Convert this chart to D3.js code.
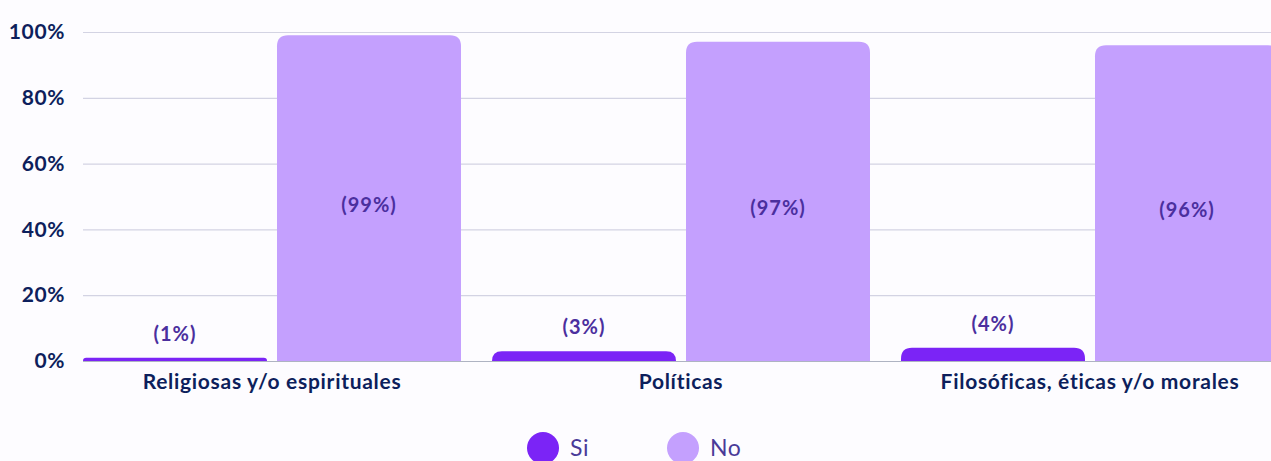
<!DOCTYPE html>
<html>
<head>
<meta charset="utf-8">
<script src="https://cdn.jsdelivr.net/npm/d3@7"></script>
<style>
  html, body { margin: 0; padding: 0; background: #fdfcff; overflow: hidden; }
  text { font-family: Lato, "Noto Sans", sans-serif; }
</style>
</head>
<body>
<div id="app"></div>
<script>
// datos
const categories = ['Religiosas y/o espirituales', 'Políticas', 'Filosóficas, éticas y/o morales'];
const seriesNames = ['Si', 'No'];
const siValues = [1, 3, 4];
const noValues = [99, 97, 96];
const yTicks = [0, 20, 40, 60, 80, 100];

const colors = { Si: '#7b24f6', No: '#c4a0fe' };

const width = 1271;
const height = 461;
const padding = { left: 83, top: 32, bottom: 100 };
const chartBottom = height - padding.bottom; // 361

let svg = d3.select('#app').append('svg')
    .attr('width', width)
    .attr('height', height);

// escalas
let xScale = d3.scaleBand()
    .domain(categories)
    .range([padding.left, padding.left + 3 * 409 - 31])
    .paddingInner(31 / 409)
    .paddingOuter(0);

let xSub = d3.scaleBand()
    .domain(seriesNames)
    .range([0, xScale.bandwidth()])
    .paddingInner(10 / 194)
    .paddingOuter(0);

let yScale = d3.scaleLinear()
    .domain([0, 100])
    .range([chartBottom, padding.top]);

// grilla y eje y
let yAxis = d3.axisLeft(yScale)
    .tickValues(yTicks)
    .tickSize(-(width - padding.left))
    .tickPadding(18)
    .tickFormat(d => d + '%');

let gy = svg.append('g')
    .attr('transform', `translate(${padding.left},0)`)
    .call(yAxis);
gy.select('.domain').remove();
gy.selectAll('.tick line')
    .attr('stroke', (d) => d === 0 ? '#aeb3c2' : '#d3d3e3')
    .attr('stroke-width', 1.2);
gy.selectAll('.tick text')
    .attr('fill', '#0d1f5c')
    .attr('font-size', 21)
    .attr('font-weight', 700)
    .attr('letter-spacing', 0.6);

// barras con esquinas superiores redondeadas
const topRounded = (x, y, w, h, r) => {
    r = Math.min(r, h, w / 2);
    return `M${x},${y + h}V${y + r}Q${x},${y} ${x + r},${y}H${x + w - r}Q${x + w},${y} ${x + w},${y + r}V${y + h}Z`;
};

let rows = categories.map((c, i) => ({
    cat: c,
    items: [
        { key: 'Si', value: siValues[i] },
        { key: 'No', value: noValues[i] }
    ]
}));

let groups = svg.selectAll('g.group')
    .data(rows)
    .enter()
    .append('g')
    .attr('class', 'group')
    .attr('transform', d => `translate(${xScale(d.cat)},0)`);

groups.selectAll('path')
    .data(d => d.items)
    .enter()
    .append('path')
    .attr('d', d => topRounded(xSub(d.key), yScale(d.value), xSub.bandwidth(), chartBottom - yScale(d.value), 11))
    .attr('fill', d => colors[d.key]);

// etiquetas de valores
groups.selectAll('text.val')
    .data(d => d.items)
    .enter()
    .append('text')
    .attr('class', 'val')
    .attr('x', d => xSub(d.key) + xSub.bandwidth() / 2)
    .attr('y', d => d.value > 20
        ? (yScale(d.value) + chartBottom) / 2 + 7
        : yScale(d.value) - 24)
    .attr('dy', '0.35em')
    .attr('text-anchor', 'middle')
    .attr('fill', '#4b2f9e')
    .attr('font-size', 20)
    .attr('font-weight', 700)
    .attr('letter-spacing', 1)
    .text(d => `(${d.value}%)`);

// eje x
let xAxis = d3.axisBottom(xScale).tickSize(0).tickPadding(13);
let gx = svg.append('g')
    .attr('transform', `translate(0,${chartBottom})`)
    .call(xAxis);
gx.select('.domain').remove();
gx.selectAll('.tick text')
    .attr('fill', '#0d1f5c')
    .attr('font-size', 21)
    .attr('font-weight', 700)
    .attr('letter-spacing', 0.7);

// leyenda
const legendX = [543, 683];
let legend = svg.selectAll('g.legend')
    .data(seriesNames)
    .enter()
    .append('g')
    .attr('class', 'legend')
    .attr('transform', (d, i) => `translate(${legendX[i]},448)`);

legend.append('circle')
    .attr('r', 16)
    .attr('fill', d => colors[d]);

legend.append('text')
    .attr('x', 27)
    .attr('y', 0)
    .attr('dy', '0.35em')
    .attr('fill', '#4a3a98')
    .attr('font-size', 23)
    .attr('letter-spacing', 0.6)
    .text(d => d);
</script>
</body>
</html>
